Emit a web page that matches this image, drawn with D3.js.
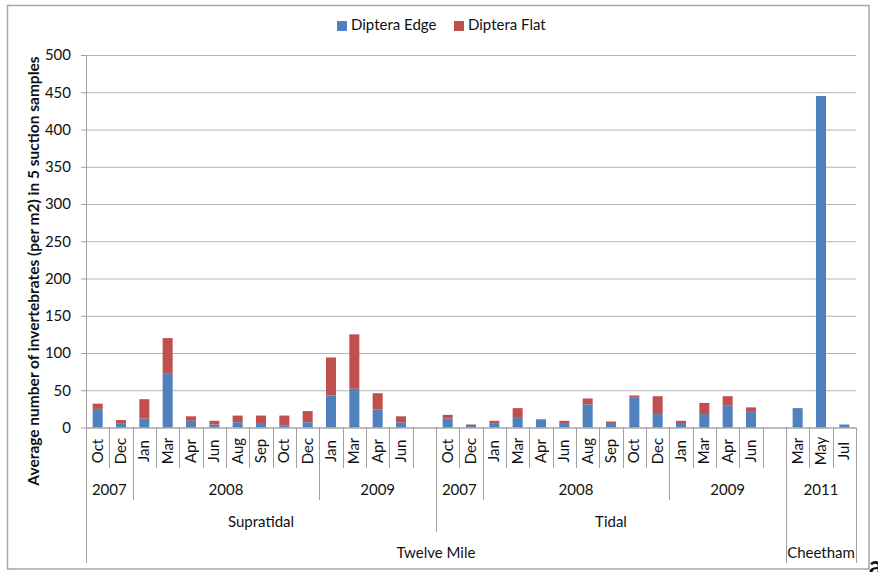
<!DOCTYPE html>
<html>
<head>
<meta charset="utf-8">
<script src="https://cdn.jsdelivr.net/npm/d3@7"></script>
<style>
  body { margin: 0; background: #fff; }
  svg text { font-family: Lato, "Liberation Sans", sans-serif; fill: #111; }
</style>
</head>
<body>
<div id="chart"></div>
<script>
// month slots (blank strings are the empty gaps between sites)
var months = ["Oct","Dec","Jan","Mar","Apr","Jun","Aug","Sep","Oct","Dec","Jan","Mar","Apr","Jun","",
              "Oct","Dec","Jan","Mar","Apr","Jun","Aug","Sep","Oct","Dec","Jan","Mar","Apr","Jun","",
              "Mar","May","Jul"];
var years = [["2007",2],["2008",8],["2009",5],["2007",2],["2008",8],["2009",5],["2011",3]];
var habitats = [["Supratidal",15],["Tidal",15],["",3]];
var sites = [["Twelve Mile",30],["Cheetham",3]];

var edge = [25,5,12,73,9,4,7,6,3,7,43,52,24,7,null,
            12,2,5,14,10,6,31,6,40,18,6,18,30,22,null,
            26,445,4];
var flat = [7,5,26,47,6,5,9,10,13,15,51,73,22,8,null,
            5,2,4,12,1,3,8,2,3,24,3,15,12,5,null,
            0,0,0];
var seriesNames = ["Diptera Edge","Diptera Flat"];
var colors = ["#4f81bd","#c0504d"];

var W = 878, H = 572;
var plotL = 86, plotR = 856, plotT = 55, plotB = 427.5;
var lineCol = "#a0a0a0";

var svg = d3.select("#chart")
    .append("svg")
      .attr("width", W)
      .attr("height", H);

// chart area border
svg.append("rect")
    .attr("x", 7.5).attr("y", 5.5)
    .attr("width", 861.5).attr("height", 563.5)
    .attr("fill", "none")
    .attr("stroke", "#a6a6a6")
    .attr("stroke-width", 1.5);

var x = d3.scaleBand()
    .domain(d3.range(months.length))
    .range([plotL, plotR])
    .padding(0);

var y = d3.scaleLinear()
    .domain([0, 500])
    .range([plotB, plotT]);

// gridlines
svg.append("g")
    .attr("transform", "translate(" + plotL + ",0)")
    .call(d3.axisLeft(y).ticks(10).tickSize(-(plotR - plotL)).tickFormat(""))
    .call(function(g) {
        g.select(".domain").remove();
        g.selectAll("line").attr("stroke", "#b3b3b3");
    });

// y axis
svg.append("g")
    .attr("transform", "translate(" + plotL + ",0)")
    .call(d3.axisLeft(y).ticks(10).tickSize(5).tickPadding(10).tickSizeOuter(0))
    .call(function(g) {
        g.select(".domain").attr("stroke", lineCol);
        g.selectAll("line").attr("stroke", lineCol);
        g.selectAll("text").style("font-size", "15px").attr("fill", "#111");
    });

// stacked bars
var rows = months.map(function(m, i) { return {i: i, edge: edge[i] || 0, flat: flat[i] || 0}; });
var stacked = d3.stack().keys(["edge", "flat"])(rows);
var barW = x.bandwidth() * 0.43;

svg.selectAll(".series")
    .data(stacked)
    .enter()
    .append("g")
      .attr("fill", function(d, k) { return colors[k]; })
    .selectAll("rect")
    .data(function(d) { return d.filter(function(p) { return p[1] > p[0]; }); })
    .enter()
    .append("rect")
      .attr("x", function(d) { return x(d.data.i) + (x.bandwidth() - barW) / 2; })
      .attr("y", function(d) { return y(d[1]); })
      .attr("width", barW)
      .attr("height", function(d) { return y(d[0]) - y(d[1]); });

// x axis line
svg.append("line")
    .attr("x1", plotL).attr("x2", plotR)
    .attr("y1", plotB + 0.5).attr("y2", plotB + 0.5)
    .attr("stroke", lineCol);

// multi-level category axis
function pos(i) { return i < months.length ? x(i) : plotR; }
var rowBottoms = [468, 500, 532, 563];

function groupLines(groups, bottom) {
    var acc = 0, out = [];
    groups.forEach(function(g) { out.push({start: acc, end: acc + g[1], label: g[0]}); acc += g[1]; });
    svg.append("g").selectAll("line")
        .data(out)
        .enter()
        .append("line")
          .attr("x1", function(d) { return Math.round(pos(d.start)) + 0.5; })
          .attr("x2", function(d) { return Math.round(pos(d.start)) + 0.5; })
          .attr("y1", plotB)
          .attr("y2", bottom)
          .attr("stroke", lineCol);
    return out;
}

// month ticks
svg.append("g").selectAll("line")
    .data(d3.range(months.length + 1))
    .enter()
    .append("line")
      .attr("x1", function(i) { return Math.round(pos(i)) + 0.5; })
      .attr("x2", function(i) { return Math.round(pos(i)) + 0.5; })
      .attr("y1", plotB)
      .attr("y2", function(i) { return (i === 0 || i === months.length) ? rowBottoms[3] : rowBottoms[0]; })
      .attr("stroke", lineCol);

svg.append("g").selectAll("text")
    .data(months)
    .enter()
    .append("text")
      .attr("transform", function(d, i) { return "translate(" + (x(i) + x.bandwidth() / 2 + 5) + ",451)rotate(-90)"; })
      .attr("text-anchor", "middle")
      .style("font-size", "15px")
      .text(function(d) { return d; });

var yrs = groupLines(years, rowBottoms[1]);
svg.append("g").selectAll("text")
    .data(yrs)
    .enter()
    .append("text")
      .attr("x", function(d) { return (pos(d.start) + pos(d.end)) / 2; })
      .attr("y", 495)
      .attr("text-anchor", "middle")
      .style("font-size", "15px")
      .text(function(d) { return d.label; });

var habs = groupLines(habitats, rowBottoms[2]);
svg.append("g").selectAll("text")
    .data(habs)
    .enter()
    .append("text")
      .attr("x", function(d) { return (pos(d.start) + pos(d.end)) / 2; })
      .attr("y", 527)
      .attr("text-anchor", "middle")
      .style("font-size", "15px")
      .text(function(d) { return d.label; });

var sts = groupLines(sites, rowBottoms[3]);
svg.append("g").selectAll("text")
    .data(sts)
    .enter()
    .append("text")
      .attr("x", function(d) { return (pos(d.start) + pos(d.end)) / 2; })
      .attr("y", 557.5)
      .attr("text-anchor", "middle")
      .style("font-size", "15px")
      .text(function(d) { return d.label; });

// y axis title
svg.append("text")
    .attr("transform", "translate(38.5,271)rotate(-90)")
    .attr("text-anchor", "middle")
    .style("font-size", "15.5px")
    .style("font-weight", "bold")
    .text("Average number of invertebrates (per m2) in 5 suction samples");

// legend
var legendX = [337, 454];
var leg = svg.append("g").selectAll("g")
    .data(seriesNames)
    .enter()
    .append("g")
      .attr("transform", function(d, k) { return "translate(" + legendX[k] + ",20)"; });
leg.append("rect")
    .attr("width", 10).attr("height", 10)
    .attr("y", 1)
    .attr("fill", function(d, k) { return colors[k]; });
leg.append("text")
    .attr("x", 14).attr("y", 10)
    .style("font-size", "15px")
    .text(function(d) { return d; });

// panel letter, cut off at the page edge in the original
svg.append("text")
    .attr("x", 869).attr("y", 575)
    .style("font-size", "26px")
    .style("font-weight", "bold")
    .text("a");
</script>
</body>
</html>
